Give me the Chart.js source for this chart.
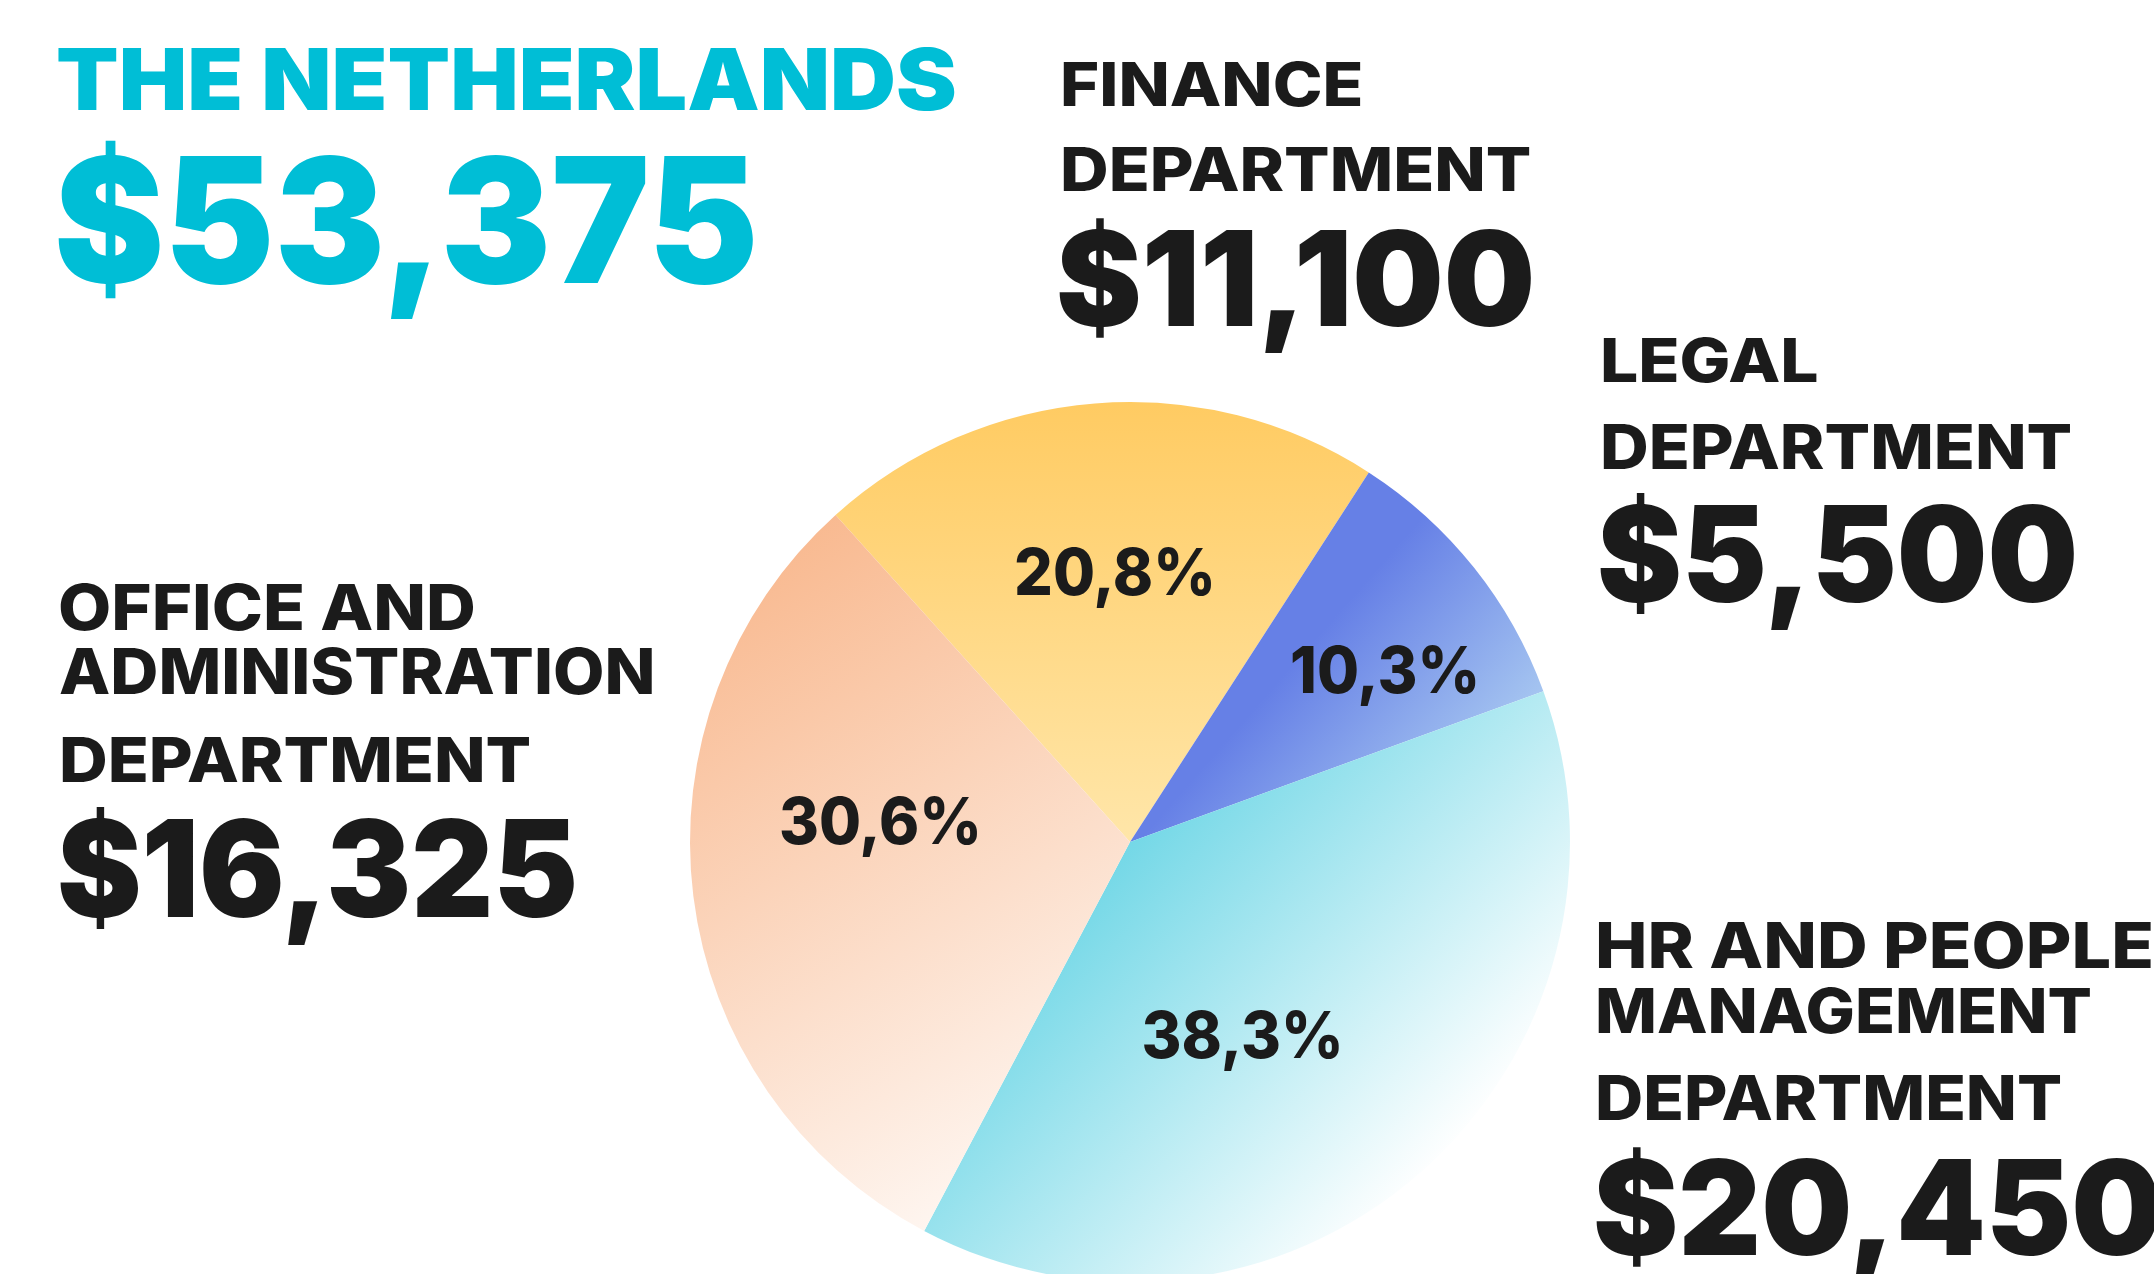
<!DOCTYPE html>
<html>
<head>
<meta charset="utf-8">
<script src="https://cdn.jsdelivr.net/npm/chart.js@4.4.1/dist/chart.umd.min.js"></script>
<style>
  html, body { margin: 0; padding: 0; background: #ffffff; overflow: hidden; width: 2154px; height: 1274px; }
  #wrap { position: relative; width: 2154px; height: 1274px; overflow: hidden; }
  #c { position: absolute; left: 0; top: 0; }
  .t { position: absolute; white-space: nowrap; transform-origin: 0 0; font-family: Inter, "Open Sans", sans-serif; }
</style>
</head>
<body>
<div id="wrap"><canvas id="c" width="2154" height="1300"></canvas></div>
<script>
// ---------------- DATA ----------------
const countryName = 'THE NETHERLANDS';
const totalLabel = '$53,375';
const categories = ['Finance Department', 'Legal Department', 'HR and People Management Department', 'Office and Administration Department'];
const amounts = [11100, 5500, 20450, 16325];
const percentLabels = ['20,8%', '10,3%', '38,3%', '30,6%'];
const amountLabels = ['$11,100', '$5,500', '$20,450', '$16,325'];
const nameLines = [
  ['FINANCE', 'DEPARTMENT'],
  ['LEGAL', 'DEPARTMENT'],
  ['HR AND PEOPLE', 'MANAGEMENT', 'DEPARTMENT'],
  ['OFFICE AND', 'ADMINISTRATION', 'DEPARTMENT']
];

// ---------------- STYLE / LAYOUT ----------------
const INK = '#1b1b1b';
const CYAN = '#00BED6';
const FONT = 'Inter';
// gradient vectors relative to pie centre, in units of radius
const sliceGradients = [
  { from: [0, -1], to: [0, 0], stops: [[0, '#FFCB62'], [1, '#FFE6A9']] },
  { from: [0.42, -0.46], to: [0.80, -0.127], stops: [[0, '#6680E6'], [1, '#AACAF1']] },
  { from: [-0.10, 0], to: [0.707, 0.73], stops: [[0, '#6AD5E5'], [1, '#FFFFFF']] },
  { from: [-1, -0.743], to: [0, 0.884], stops: [[0, '#F8B386'], [1, '#FFFFFF']] }
];
const labelPlacement = [
  { frac: 0.616, dAng: 1.4 },
  { frac: 0.700, dAng: 4.5 },
  { frac: 0.506, dAng: 10.7 },
  { frac: 0.569, dAng: 11.9 }
];
const pctCap = 47;
const pctWidthRef = 195; // ink width of first label

const headerBoxes = [
  { left: 58, right: 955, capTop: 48, base: 110 },
  { left: 58, right: 753, capTop: 156, base: 283 }
];
const nameBoxes = [
  [{ left: 1063, right: 1360, capTop: 63, base: 107 }, { left: 1063, right: 1529, capTop: 148, base: 192 }],
  [{ left: 1603, right: 1817, capTop: 339, base: 383 }, { left: 1603, right: 2070, capTop: 424, base: 469 }],
  [{ left: 1598, right: 2151, capTop: 923, base: 969 }, { left: 1598, right: 2090, capTop: 988, base: 1033 }, { left: 1598, right: 2060, capTop: 1075, base: 1120 }],
  [{ left: 60, right: 473, capTop: 585, base: 631 }, { left: 60, right: 652, capTop: 649, base: 695 }, { left: 62, right: 529, capTop: 737, base: 782 }]
];
const amountBoxes = [
  { left: 1059, right: 1531, capTop: 230, base: 326 },
  { left: 1600, right: 2074, capTop: 506, base: 603 },
  { left: 1596, right: 2158, capTop: 1159, base: 1255 },
  { left: 60, right: 574, capTop: 819, base: 917 }
];

// ---------------- TEXT PLACEMENT (real DOM text) ----------------
const mc = document.createElement('canvas').getContext('2d');
function placeText(text, box, weight, color) {
  mc.font = weight + ' 100px ' + FONT;
  const capRatio = mc.measureText('H').actualBoundingBoxAscent / 100;
  const capH = box.base - box.capTop;
  const S = capH / capRatio;
  mc.font = weight + ' ' + S + 'px ' + FONT;
  const m = mc.measureText(text);
  const inkL = m.actualBoundingBoxLeft, inkR = m.actualBoundingBoxRight;
  const sx = (box.right - box.left) / (inkL + inkR);
  const fA = m.fontBoundingBoxAscent, fD = m.fontBoundingBoxDescent;
  const el = document.createElement('div');
  el.className = 't';
  el.textContent = text;
  el.style.fontSize = S + 'px';
  el.style.fontWeight = weight;
  el.style.color = color;
  el.style.lineHeight = S + 'px';
  const baseOff = (S - (fA + fD)) / 2 + fA;
  el.style.top = (box.base - baseOff) + 'px';
  el.style.left = (box.left + sx * inkL) + 'px';
  el.style.transform = 'scaleX(' + sx + ')';
  document.getElementById('wrap').appendChild(el);
}
placeText(countryName, headerBoxes[0], 900, CYAN);
placeText(totalLabel, headerBoxes[1], 900, CYAN);
nameLines.forEach((lines, i) => {
  lines.forEach((ln, j) => placeText(ln, nameBoxes[i][j], 800, INK));
  placeText(amountLabels[i], amountBoxes[i], 900, INK);
});

// ---------------- CHART ----------------
const pctPlugin = {
  id: 'pctLabels',
  afterDatasetsDraw(chart) {
    const ctx = chart.ctx;
    const meta = chart.getDatasetMeta(0);
    ctx.save();
    ctx.font = '800 100px ' + FONT;
    const capRatio = ctx.measureText('H').actualBoundingBoxAscent / 100;
    const S = pctCap / capRatio;
    ctx.font = '800 ' + S + 'px ' + FONT;
    const m0 = ctx.measureText(percentLabels[0]);
    const sx = pctWidthRef / (m0.actualBoundingBoxLeft + m0.actualBoundingBoxRight);
    ctx.fillStyle = INK;
    ctx.textAlign = 'center';
    ctx.textBaseline = 'alphabetic';
    meta.data.forEach((arc, i) => {
      const p = arc.getProps(['x', 'y', 'startAngle', 'endAngle', 'outerRadius'], true);
      const mid = (p.startAngle + p.endAngle) / 2 + labelPlacement[i].dAng * Math.PI / 180;
      const px = p.x + Math.cos(mid) * p.outerRadius * labelPlacement[i].frac;
      const py = p.y + Math.sin(mid) * p.outerRadius * labelPlacement[i].frac;
      ctx.save();
      ctx.translate(px, py + pctCap / 2);
      ctx.scale(sx, 1);
      ctx.fillText(percentLabels[i], 0, 0);
      ctx.restore();
    });
    ctx.restore();
  }
};

function sliceFill(c) {
  const chart = c.chart;
  const a = chart.chartArea;
  if (!a) return '#cccccc';
  const cx = (a.left + a.right) / 2, cy = (a.top + a.bottom) / 2;
  const r = Math.min(a.right - a.left, a.bottom - a.top) / 2;
  const g = sliceGradients[c.dataIndex];
  const grad = chart.ctx.createLinearGradient(cx + g.from[0] * r, cy + g.from[1] * r, cx + g.to[0] * r, cy + g.to[1] * r);
  g.stops.forEach(s => grad.addColorStop(s[0], s[1]));
  return grad;
}

new Chart(document.getElementById('c'), {
  type: 'pie',
  data: {
    labels: categories,
    datasets: [{
      data: amounts,
      backgroundColor: sliceFill,
      borderWidth: 0
    }]
  },
  options: {
    responsive: false,
    animation: false,
    rotation: -42,
    layout: { padding: { left: 690, right: 584, top: 402, bottom: 18 } },
    plugins: { legend: { display: false }, tooltip: { enabled: false } },
    events: []
  },
  plugins: [pctPlugin]
});
</script>
</body>
</html>
